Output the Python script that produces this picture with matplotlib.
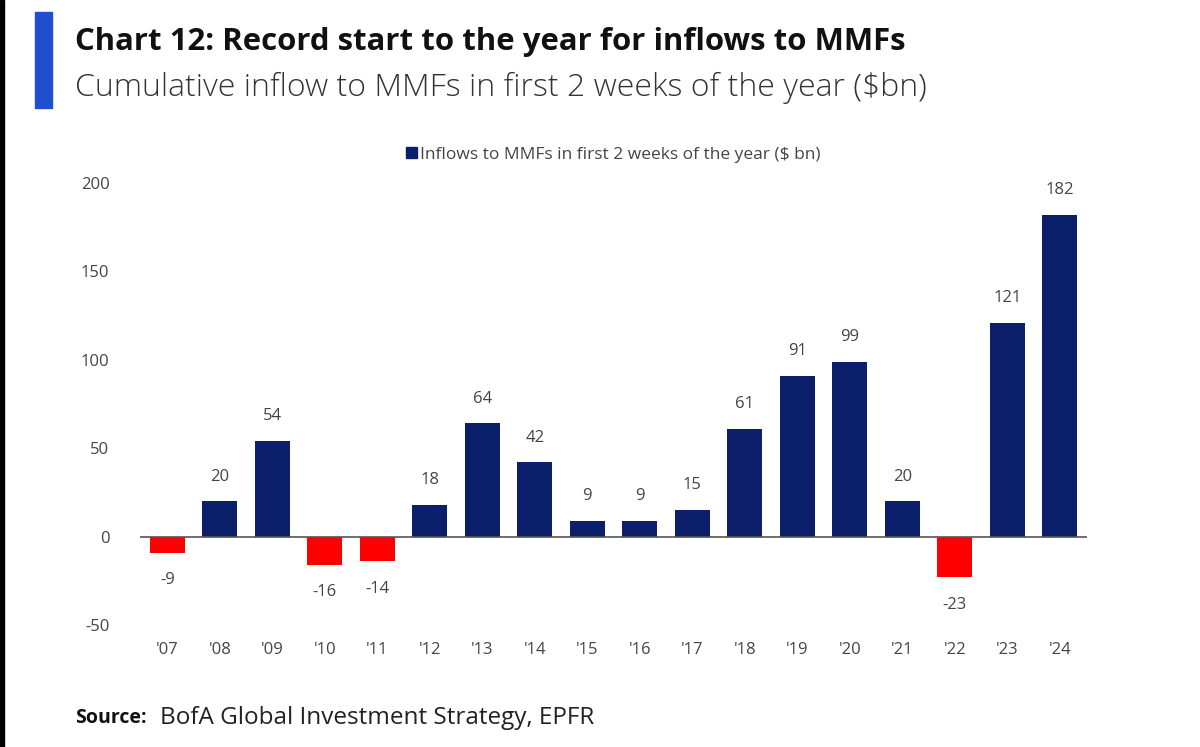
import matplotlib.pyplot as plt
from matplotlib.patches import Rectangle

# Veriler
years = ["'07", "'08", "'09", "'10", "'11", "'12", "'13", "'14", "'15",
         "'16", "'17", "'18", "'19", "'20", "'21", "'22", "'23", "'24"]
inflows = [-9, 20, 54, -16, -14, 18, 64, 42, 9, 9, 15, 61, 91, 99, 20, -23, 121, 182]

navy = '#0b1f6b'
red = '#ff0000'
grey = '#444444'
font = ['Liberation Sans Narrow', 'Open Sans', 'DejaVu Sans']
plt.rcParams['axes.unicode_minus'] = False

fig = plt.figure(figsize=(12, 7.47), dpi=100)
ax = fig.add_axes([0.1167, 0.1633, 0.7893, 0.5917])

colors = [navy if v >= 0 else red for v in inflows]
x = range(len(years))
ax.bar(x, inflows, width=0.67, color=colors)

for i, v in enumerate(inflows):
    if v >= 0:
        ax.annotate(str(v), (i, v), xytext=(0, 12), textcoords='offset points',
                    ha='center', va='bottom', fontsize=12, color=grey, family=font)
    else:
        ax.annotate(str(v), (i, v), xytext=(0, -14), textcoords='offset points',
                    ha='center', va='top', fontsize=12, color=grey, family=font)

ax.set_xlim(-0.52, len(years) - 0.48)
ax.set_ylim(-50, 200)
ax.set_yticks([-50, 0, 50, 100, 150, 200])
ax.set_xticks(list(x))
ax.set_xticklabels(years)
for s in ax.spines.values():
    s.set_visible(False)
ax.axhline(0, color='#555555', lw=1.2)
ax.tick_params(length=0, labelsize=12, colors=grey, pad=22)
ax.tick_params(axis='x', pad=12)
for lab in ax.get_xticklabels() + ax.get_yticklabels():
    lab.set_family(font)

# Lejant için vekil kutu
proxy = Rectangle((0, 0), 1, 1, color=navy)
leg = ax.legend([proxy], ['Inflows to MMFs in first 2 weeks of the year ($ bn)'],
                loc='lower center', bbox_to_anchor=(0.5, 1.01), frameon=False,
                handlelength=0.6, handleheight=0.6, handletextpad=0.2,
                prop={'family': font, 'size': 12.5})
for t in leg.get_texts():
    t.set_color(grey)

# Başlıklar
fig.patches.append(Rectangle((35 / 1200, 1 - 108 / 747), 17 / 1200, 96 / 747,
                             transform=fig.transFigure, color='#1f4fd0'))
fig.patches.append(Rectangle((0, 0), 4 / 1200, 1, transform=fig.transFigure, color='black'))
fig.text(75 / 1200, 1 - 42 / 747, 'Chart 12: Record start to the year for inflows to MMFs',
         fontsize=22.4, fontweight='bold', family=['Open Sans', 'DejaVu Sans'],
         va='center', ha='left', color='#111111')
fig.text(75 / 1200, 1 - 88 / 747, 'Cumulative inflow to MMFs in first 2 weeks of the year ($bn)',
         fontsize=23, family=['Open Sans', 'DejaVu Sans'], fontweight='light',
         va='center', ha='left', color='#333333')

fig.text(75 / 1200, 1 - 718 / 747, 'Source:', fontsize=14, fontweight='bold',
         family=['Open Sans', 'DejaVu Sans'], va='center', ha='left', color='#111111')
fig.text(160 / 1200, 1 - 718 / 747, 'BofA Global Investment Strategy, EPFR', fontsize=17.5,
         family=['Open Sans', 'DejaVu Sans'], va='center', ha='left', color='#222222')

plt.savefig('out.png', dpi=100)
